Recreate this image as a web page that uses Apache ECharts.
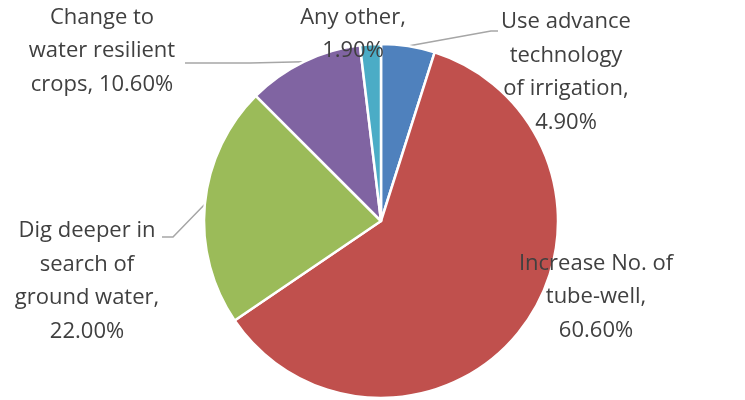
<!DOCTYPE html>
<html><head><meta charset="utf-8">
<script src="https://cdn.jsdelivr.net/npm/echarts@6/dist/echarts.min.js"></script>
<style>html,body{margin:0;padding:0;background:#fff}#c{width:745px;height:400px}</style>
</head><body><div id="c"></div>
<script>
const categories = ["Use advance\ntechnology\nof irrigation,", "Increase No. of\ntube-well,", "Dig deeper in\nsearch of\nground water,", "Change to\nwater resilient\ncrops,", "Any other,"];
const values = [4.9, 60.6, 22.0, 10.6, 1.9];
const colors = ['#4F81BD', '#C0504D', '#9BBB59', '#8064A2', '#4BACC6'];

// label placement (style): center x, center y, separator, line break points
const labelPos = [
  {x: 566, y: 72, sep: '\n', line: [[491, 31], [498, 31]]},
  {x: 596, y: 297, sep: '\n', line: null},
  {x: 87, y: 281, sep: '\n', line: [[173, 237], [162, 237]]},
  {x: 102, y: 51, sep: ' ', line: [[250, 63], [185, 63]]},
  {x: 353, y: 34, sep: '\n', line: null}
];

const chart = echarts.init(document.getElementById('c'), null, {renderer: 'canvas'});
chart.setOption({
  animation: false,
  series: [{
    type: 'pie',
    center: [381, 221],
    radius: [0, 177],
    startAngle: 90,
    clockwise: true,
    avoidLabelOverlap: false,
    itemStyle: {borderColor: '#fff', borderWidth: 2.5},
    label: {
      show: true,
      formatter: p => p.name + labelPos[p.dataIndex].sep + p.value.toFixed(2) + '%',
      fontFamily: 'Open Sans',
      fontSize: 22,
      lineHeight: 33.5,
      color: '#404040',
      align: 'center'
    },
    labelLine: {show: true, length: 10, length2: 10, lineStyle: {color: '#A6A6A6', width: 1.5}},
    labelLayout: function (params) {
      const p = labelPos[params.dataIndex];
      const out = {x: p.x, y: p.y, align: 'center', verticalAlign: 'middle'};
      if (p.line && params.labelLinePoints) {
        out.labelLinePoints = [params.labelLinePoints[0]].concat(p.line);
      }
      return out;
    },
    data: values.map((v, i) => ({
      name: categories[i],
      value: v,
      itemStyle: {color: colors[i]},
      labelLine: {show: labelPos[i].line !== null}
    }))
  }]
});
</script></body></html>
